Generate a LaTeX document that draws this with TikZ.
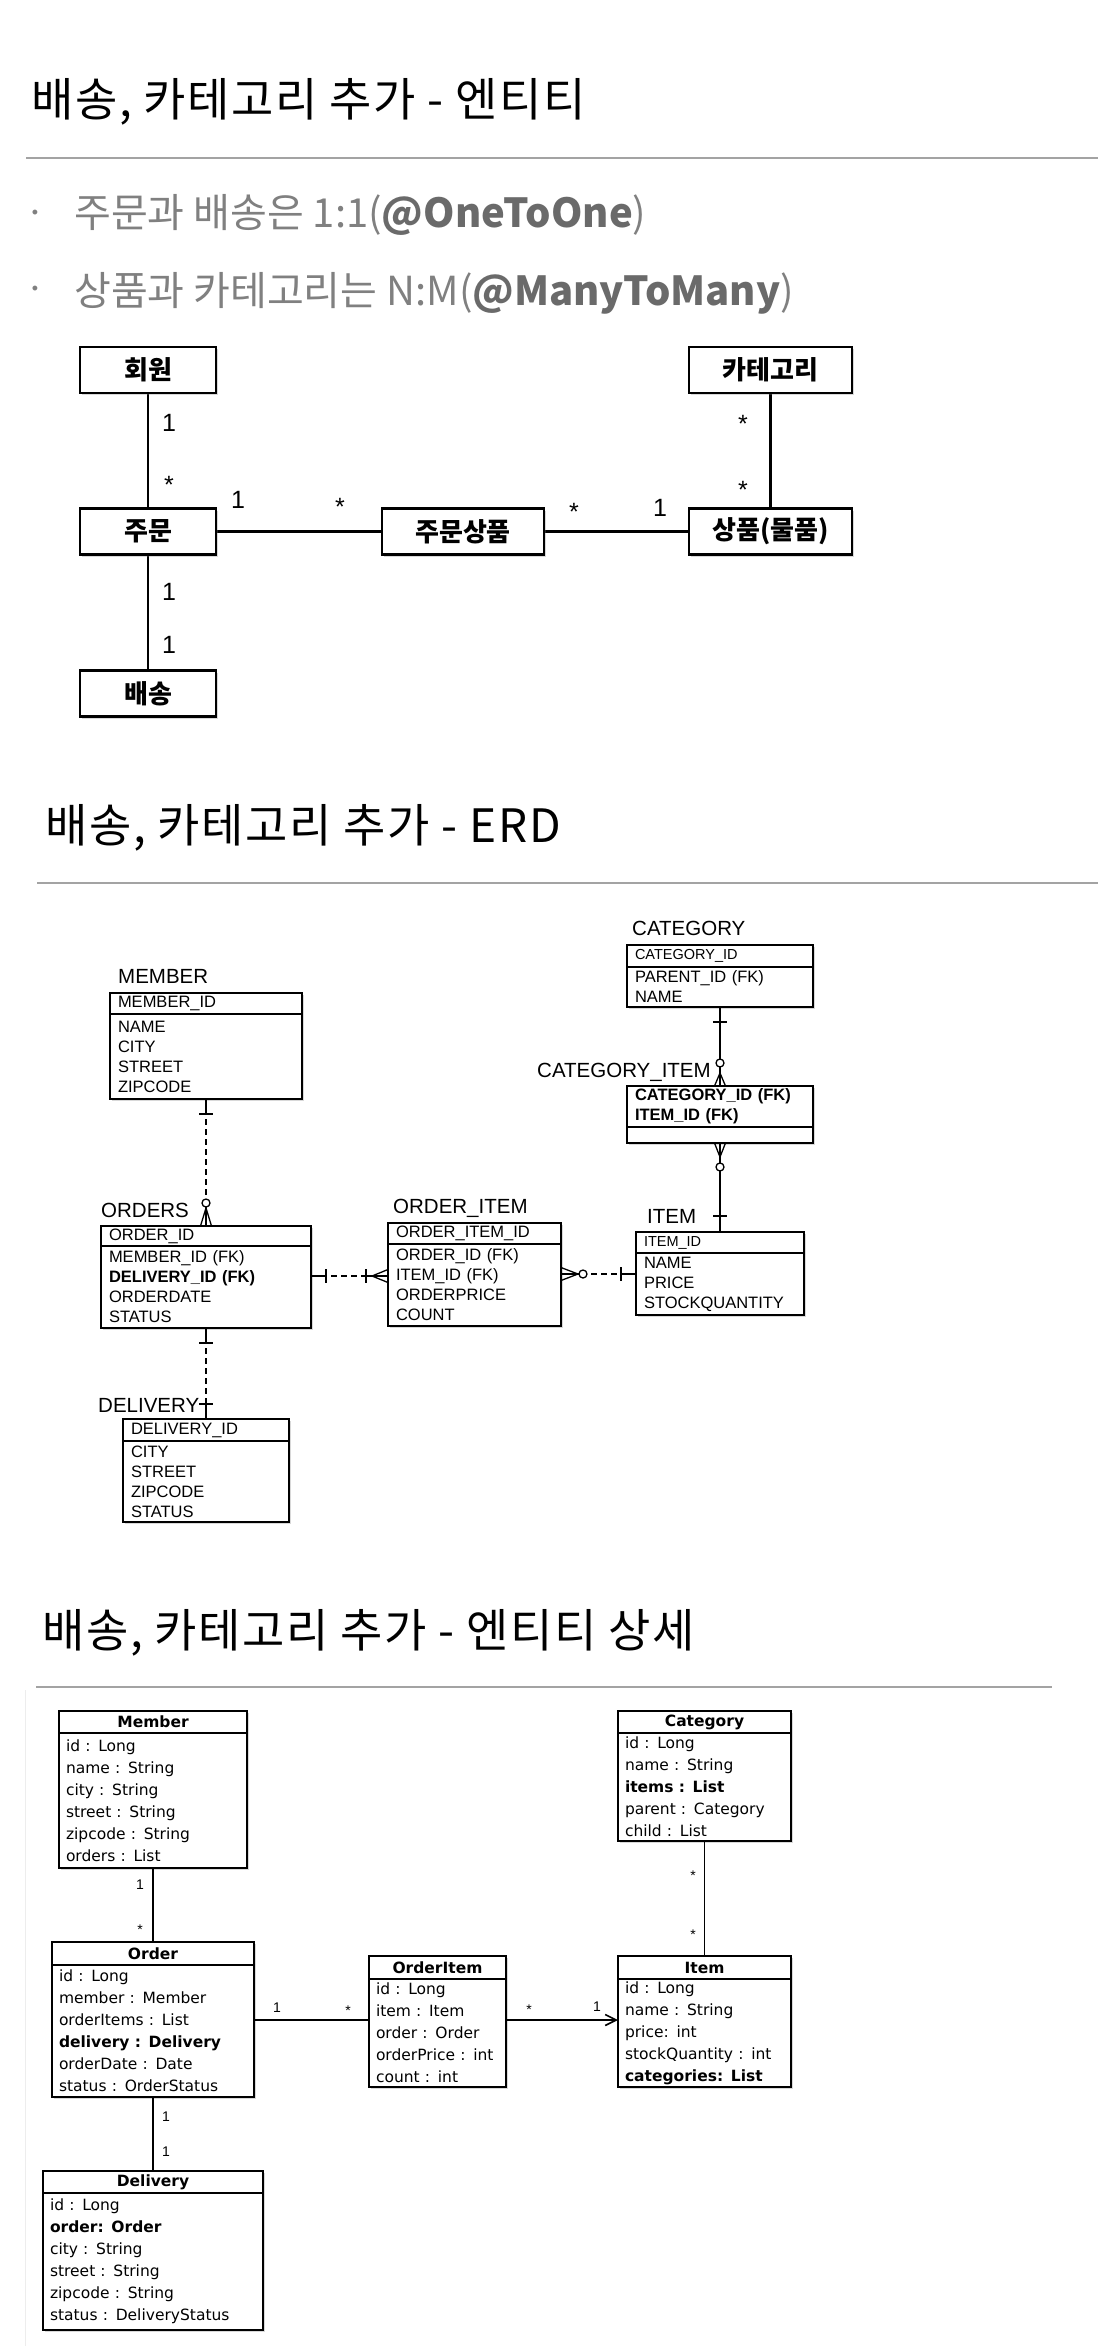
\documentclass[tikz,border=0pt]{standalone}
\usepackage{fontspec}
\setmainfont{Liberation Sans}
\newfontfamily\krfont{Noto Sans CJK KR}
\newfontfamily\krwide[LetterSpace=3.5]{Noto Sans CJK KR}
\newfontfamily\umlfont{DejaVu Sans}
\usetikzlibrary{positioning,shadows,arrows.meta}
\definecolor{rulegray}{HTML}{A3A3A3}
\definecolor{bulgray}{HTML}{808080}
\definecolor{bolgray}{HTML}{6A6A6A}
\definecolor{faintgray}{HTML}{EDEDED}
\newcommand\setfs[2]{\fontsize{#1}{#2}\selectfont}

\begin{document}
\begin{tikzpicture}[x=1pt,y=-1pt,
  boxshadow/.style={drop shadow={opacity=0.3,shadow xshift=2pt,shadow yshift=-2pt}},
  kbox/.style={draw,line width=2.5pt,fill=white,boxshadow,inner sep=0pt,outer sep=0pt,minimum height=46pt,font=\krfont\bfseries\setfs{26}{30}},
  klink/.style={line width=2.5pt},
  kmult/.style={inner sep=0pt,font=\setfs{25}{25}},
  heading/.style={anchor=base west,inner sep=0pt,font=\krwide\setfs{46}{46}},
  rulerline/.style={rulegray,line width=2pt},
  bullettext/.style={anchor=base west,inner sep=0pt,text=bulgray,font=\krfont\setfs{40}{40}},
  ername/.style={anchor=base west,inner sep=0pt,font=\setfs{20.5}{20.5}},
  ercell/.style={draw,fill=white,line width=1.3pt,boxshadow,anchor=north west,align=left,inner xsep=8pt,inner ysep=0pt,outer sep=0pt,font=\setfs{16.5}{20}},
  erline/.style={line width=1.3pt},
  erdash/.style={dash pattern=on 6pt off 4pt},
  umlcell/.style={draw,fill=white,line width=1.6pt,boxshadow,anchor=north west,align=left,inner xsep=7pt,inner ysep=0pt,outer sep=0pt,font=\umlfont\setfs{15.5}{22}},
  umlhead/.style={umlcell,align=center,font=\umlfont\bfseries\setfs{15.5}{22}},
  umlline/.style={line width=1.6pt},
  umlmult/.style={inner sep=0pt,font=\setfs{14}{14}}]
\fill[white] (0,0) rectangle (1098,2346);
\useasboundingbox (0,0) rectangle (1098,2346);

% part 1: entities
\node[heading] (t1) at (31,116) {배송, 카테고리 추가 - 엔티티};
\draw[rulerline] (26,158) -- (1098,158);
\node[inner sep=0pt,text=bulgray,font=\setfs{18}{18}] (d1) at (35,214) {•};
\node[bullettext] (b1) at (74,227) {주문과 배송은 1:1(\textcolor{bolgray}{\bfseries @OneToOne})};
\node[inner sep=0pt,text=bulgray,font=\setfs{18}{18}] (d2) at (35,290) {•};
\node[bullettext] (b2) at (74,305) {상품과 카테고리는 N:M(\textcolor{bolgray}{\bfseries @ManyToMany})};

\draw[klink] (148,370) -- (148,531.5);
\draw[klink] (148,531.5) -- (463,531.5) -- (770.5,531.5);
\draw[klink] (148,531.5) -- (148,693.5);
\draw[klink] (770.5,370) -- (770.5,531.5);
\node[kbox,minimum width=136pt] (kMbr) at (148,370) {회원};
\node[kbox,minimum width=163pt] (kCat) at (770.5,370) {카테고리};
\node[kbox,minimum width=136pt] (kOrd) at (148,531.5) {주문};
\node[kbox,minimum width=162pt] (kOit) at (463,531.5) {주문상품};
\node[kbox,minimum width=163pt] (kItm) at (770.5,531.5) {상품(물품)};
\node[kbox,minimum width=136pt] (kDlv) at (148,693.5) {배송};
\node[kmult] (k1) at (169,423) {1};
\node[kmult] (k2) at (169,485) {*};
\node[kmult] (k3) at (238,500) {1};
\node[kmult] (k4) at (340,507) {*};
\node[kmult] (k5) at (574,512) {*};
\node[kmult] (k6) at (660,508) {1};
\node[kmult] (k7) at (743,424) {*};
\node[kmult] (k8) at (743,490) {*};
\node[kmult] (k9) at (169,592) {1};
\node[kmult] (k10) at (169,645) {1};

% part 2: ERD
\node[heading] (t2) at (45,842) {배송, 카테고리 추가 - ERD};
\draw[rulerline] (37,883) -- (1098,883);

\node[ername] (catT) at (632,935) {CATEGORY};
\node[ercell,text width=170pt,minimum height=22pt,font=\setfs{14.5}{20}] (eCatH) at (627,945) {CATEGORY\_ID};
\node[ercell,text width=170pt,minimum height=40pt] (eCat) at (eCatH.south west) {PARENT\_ID (FK)\\NAME};

\node[ername] (catiT) at (537,1077) {CATEGORY\_ITEM};
\node[ercell,text width=170pt,minimum height=41pt,font=\bfseries\setfs{16.5}{20}] (eCatiH) at (627,1086) {CATEGORY\_ID (FK)\\ITEM\_ID (FK)};
\node[ercell,text width=170pt,minimum height=16pt] (eCati) at (eCatiH.south west) {};

\node[ername] (itmT) at (647,1223) {ITEM};
\node[ercell,text width=152pt,minimum height=21pt,font=\setfs{14.5}{20}] (eItmH) at (636,1232) {ITEM\_ID};
\node[ercell,text width=152pt,minimum height=62pt] (eItm) at (eItmH.south west) {NAME\\PRICE\\STOCKQUANTITY};

\node[ername] (mbrT) at (118,983) {MEMBER};
\node[ercell,text width=176pt,minimum height=21pt] (eMbrH) at (110,993) {MEMBER\_ID};
\node[ercell,text width=176pt,minimum height=85pt] (eMbr) at (eMbrH.south west) {NAME\\CITY\\STREET\\ZIPCODE};

\node[ername] (ordT) at (101,1217) {ORDERS};
\node[ercell,text width=194pt,minimum height=20pt] (eOrdH) at (101,1226) {ORDER\_ID};
\node[ercell,text width=194pt,minimum height=82pt] (eOrd) at (eOrdH.south west) {MEMBER\_ID (FK)\\\textbf{DELIVERY\_ID (FK)}\\ORDERDATE\\STATUS};

\node[ername] (oiT) at (393,1213) {ORDER\_ITEM};
\node[ercell,text width=157pt,minimum height=21pt] (eOiH) at (388,1223) {ORDER\_ITEM\_ID};
\node[ercell,text width=157pt,minimum height=82pt] (eOi) at (eOiH.south west) {ORDER\_ID (FK)\\ITEM\_ID (FK)\\ORDERPRICE\\COUNT};

\node[ername] (dlvT) at (98,1412) {DELIVERY};
\node[ercell,text width=150pt,minimum height=22pt] (eDlvH) at (123,1419) {DELIVERY\_ID};
\node[ercell,text width=150pt,minimum height=81pt] (eDlv) at (eDlvH.south west) {CITY\\STREET\\ZIPCODE\\STATUS};

% category -- category_item
\draw[erline] (eCat.south) -- (eCatiH.north);
\draw[erline] ([xshift=-7pt,yshift=-15pt]eCat.south) -- ([xshift=7pt,yshift=-15pt]eCat.south);
\draw[erline] ([xshift=-5.5pt]eCatiH.north) -- ([yshift=13pt]eCatiH.north) -- ([xshift=5.5pt]eCatiH.north);
\draw[erline,fill=white] ([yshift=23pt]eCatiH.north) circle[radius=4pt];
% category_item -- item
\draw[erline] (eCati.south) -- (eItmH.north);
\draw[erline] ([xshift=-5.5pt]eCati.south) -- ([yshift=-14pt]eCati.south) -- ([xshift=5.5pt]eCati.south);
\draw[erline,fill=white] ([yshift=-24pt]eCati.south) circle[radius=4pt];
\draw[erline] ([xshift=-7pt,yshift=16pt]eItmH.north) -- ([xshift=7pt,yshift=16pt]eItmH.north);
% member -- orders
\draw[erline,erdash] (eMbr.south) -- (eOrdH.north);
\draw[erline] (eMbr.south) -- ([yshift=-15pt]eMbr.south);
\draw[erline] ([xshift=-7pt,yshift=-15pt]eMbr.south) -- ([xshift=7pt,yshift=-15pt]eMbr.south);
\draw[erline] ([yshift=19pt]eOrdH.north) -- (eOrdH.north);
\draw[erline] ([xshift=-5.5pt]eOrdH.north) -- ([yshift=18pt]eOrdH.north) -- ([xshift=5.5pt]eOrdH.north);
\draw[erline,fill=white] ([yshift=23pt]eOrdH.north) circle[radius=4pt];
% orders -- order_item
\coordinate (dA) at ([yshift=11pt]eOrd.east);
\coordinate (dB) at (dA -| eOi.west);
\draw[erline,erdash] (dA) -- (dB);
\draw[erline] (dA) -- ([xshift=15pt]dA);
\draw[erline] ([xshift=15pt,yshift=7pt]dA) -- ([xshift=15pt,yshift=-7pt]dA);
\draw[erline] ([xshift=-22pt]dB) -- (dB);
\draw[erline] ([xshift=-22pt,yshift=7pt]dB) -- ([xshift=-22pt,yshift=-7pt]dB);
\draw[erline] ([yshift=6.5pt]dB) -- ([xshift=-16pt]dB) -- ([yshift=-6.5pt]dB);
% order_item -- item
\coordinate (eB) at ([yshift=10pt]eItm.west);
\coordinate (eA) at (eB -| eOi.east);
\draw[erline,erdash] (eA) -- (eB);
\draw[erline] (eA) -- ([xshift=18pt]eA);
\draw[erline] ([yshift=6.5pt]eA) -- ([xshift=17pt]eA) -- ([yshift=-6.5pt]eA);
\draw[erline,fill=white] ([xshift=22pt]eA) circle[radius=4pt];
\draw[erline] ([xshift=-15pt]eB) -- (eB);
\draw[erline] ([xshift=-15pt,yshift=7pt]eB) -- ([xshift=-15pt,yshift=-7pt]eB);
% orders -- delivery
\draw[erline,erdash] (eOrd.south) -- (eDlvH.north);
\draw[erline] (eOrd.south) -- ([yshift=-15pt]eOrd.south);
\draw[erline] ([xshift=-7pt,yshift=-15pt]eOrd.south) -- ([xshift=7pt,yshift=-15pt]eOrd.south);
\draw[erline] ([yshift=15pt]eDlvH.north) -- (eDlvH.north);
\draw[erline] ([xshift=-7pt,yshift=15pt]eDlvH.north) -- ([xshift=7pt,yshift=15pt]eDlvH.north);

% part 3: entity details
\node[heading] (t3) at (42,1647) {배송, 카테고리 추가 - 엔티티 상세};
\draw[rulerline] (36,1687) -- (1052,1687);
\draw[faintgray,line width=1pt] (25,1690) -- (25,2346);

\node[umlhead,text width=174pt,minimum height=22pt] (cMbrH) at (59,1711) {Member};
\node[umlcell,text width=174pt,minimum height=135pt] (cMbr) at (cMbrH.south west) {id : Long\\name : String\\city : String\\street : String\\zipcode : String\\orders : List};

\node[umlhead,text width=159pt,minimum height=22pt] (cCatH) at (618,1711) {Category};
\node[umlcell,text width=159pt,minimum height=108pt] (cCat) at (cCatH.south west) {id : Long\\name : String\\\textbf{items : List}\\parent : Category\\child : List};

\node[umlhead,text width=188pt,minimum height=23pt] (cOrdH) at (52,1942) {Order};
\node[umlcell,text width=188pt,minimum height=132pt] (cOrd) at (cOrdH.south west) {id : Long\\member : Member\\orderItems : List\\\textbf{delivery : Delivery}\\orderDate : Date\\status : OrderStatus};

\node[umlhead,text width=123pt,minimum height=23pt] (cOitH) at (369,1956) {OrderItem};
\node[umlcell,text width=123pt,minimum height=108pt] (cOit) at (cOitH.south west) {id : Long\\item : Item\\order : Order\\orderPrice : int\\count : int};

\node[umlhead,text width=159pt,minimum height=23pt] (cItmH) at (618,1956) {Item};
\node[umlcell,text width=159pt,minimum height=108pt] (cItm) at (cItmH.south west) {id : Long\\name : String\\price: int\\stockQuantity : int\\\textbf{categories: List}};

\node[umlhead,text width=206pt,minimum height=22pt] (cDlvH) at (43,2171) {Delivery};
\node[umlcell,text width=206pt,minimum height=137pt] (cDlv) at (cDlvH.south west) {id : Long\\\textbf{order: Order}\\city : String\\street : String\\zipcode : String\\status : DeliveryStatus};

\draw[umlline] (cMbr.south) -- (cOrdH.north);
\draw[umlline] (cCat.south) -- (cItmH.north);
\coordinate (oA) at ([yshift=11pt]cOrd.east);
\draw[umlline] (oA) -- (oA -| cOit.west);
\draw[umlline,-{Straight Barb[length=11pt,width=11pt]}] (oA -| cOit.east) -- (oA -| cItm.west);
\draw[umlline] (cOrd.south) -- (cDlvH.north);
\node[umlmult] (u1) at (140,1885) {1};
\node[umlmult] (u2) at (140,1930) {*};
\node[umlmult] (u3) at (693,1876) {*};
\node[umlmult] (u4) at (693,1935) {*};
\node[umlmult] (u5) at (277,2008) {1};
\node[umlmult] (u6) at (348,2011) {*};
\node[umlmult] (u7) at (529,2010) {*};
\node[umlmult] (u8) at (597,2007) {1};
\node[umlmult] (u9) at (166,2117) {1};
\node[umlmult] (u10) at (166,2152) {1};
\end{tikzpicture}
\end{document}
